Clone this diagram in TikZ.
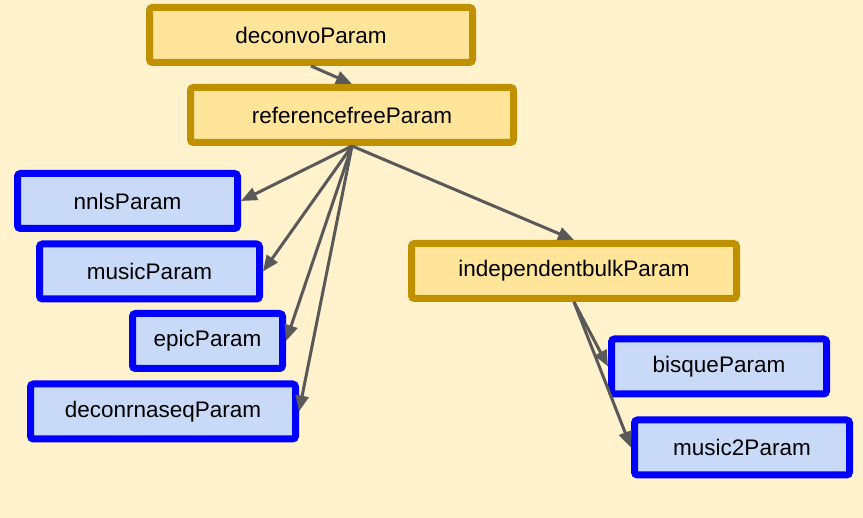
\documentclass[tikz,border=0pt]{standalone}
\usepackage{fontspec}
\setmainfont{Liberation Sans}
\usetikzlibrary{arrows.meta, positioning}

\definecolor{bgyellow}{HTML}{FFF2CC}
\definecolor{goldline}{HTML}{BF9000}
\definecolor{goldfill}{HTML}{FFE599}
\definecolor{bluefill}{HTML}{C9DAF8}
\definecolor{arrowgray}{HTML}{595959}

\begin{document}
\begin{tikzpicture}[
    on grid,
    >={Triangle[length=16pt, width=13pt]},
    parambox/.style={rectangle, draw=goldline, fill=goldfill, line width=7pt, rounded corners=3pt, minimum height=55pt, font=\fontsize{22.5}{27}\selectfont, align=center},
    methodbox/.style={rectangle, draw=blue, fill=bluefill, line width=7pt, rounded corners=3pt, minimum height=55pt, font=\fontsize{22.5}{27}\selectfont, align=center},
    link/.style={->, draw=arrowgray, line width=3pt},
]

% Background
\path[use as bounding box, fill=bgyellow] (0pt,0pt) rectangle (863pt,-518pt);

% Top parameter boxes
\node[parambox, minimum width=323pt] (deconvo) at (311pt,-35pt) {deconvoParam};
\node[parambox, minimum width=323pt, below right=80pt and 41pt of deconvo] (reffree) {referencefreeParam};

% Left branch
\node[methodbox, minimum width=220pt, below left=86pt and 224.5pt of reffree] (nnls) {nnlsParam};
\node[methodbox, minimum width=220pt, below right=70.5pt and 22pt of nnls] (music) {musicParam};
\node[methodbox, minimum width=150pt, below right=69.5pt and 58pt of music] (epic) {epicParam};
\node[methodbox, minimum width=265pt, below left=70.5pt and 44.5pt of epic] (deconrnaseq) {deconrnaseqParam};

% Right branch
\node[parambox, minimum width=325pt, below right=156pt and 222pt of reffree] (indep) {independentbulkParam};
\node[methodbox, minimum width=215pt, below right=95.5pt and 145pt of indep] (bisque) {bisqueParam};
\node[methodbox, minimum width=215pt, below right=81pt and 23pt of bisque] (music2) {music2Param};

% Arrows
\draw[link] (deconvo.south) -- (reffree.north);
\draw[link] (reffree.south) -- (nnls.east);
\draw[link] (reffree.south) -- (music.east);
\draw[link] (reffree.south) -- (epic.east);
\draw[link] (reffree.south) -- (deconrnaseq.east);
\draw[link] (reffree.south) -- (indep.north);
\draw[link] (indep.south) -- (bisque.west);
\draw[link] (indep.south) -- (music2.west);

\end{tikzpicture}
\end{document}
